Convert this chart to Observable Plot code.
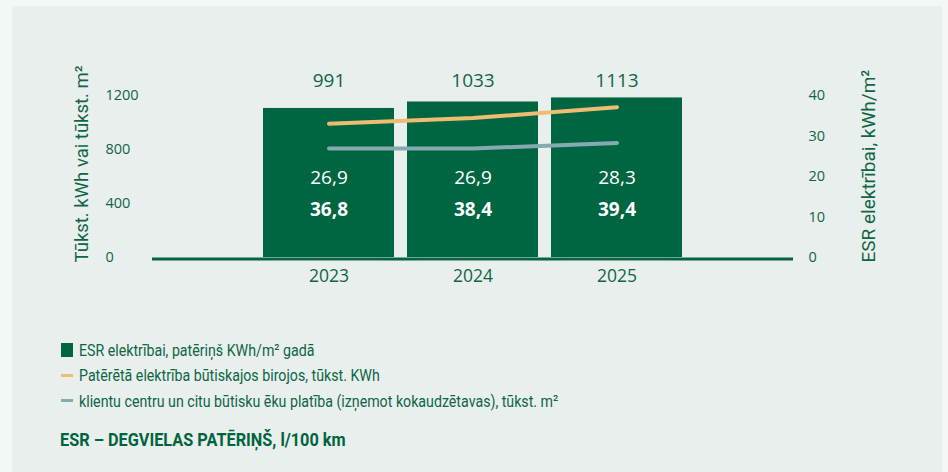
<!DOCTYPE html>
<html><head><meta charset="utf-8">
<script src="https://cdn.jsdelivr.net/npm/d3@7"></script>
<script src="https://cdn.jsdelivr.net/npm/@observablehq/plot@0.6"></script>
<style>
html,body{margin:0;padding:0;background:#f3f7f5;width:948px;height:472px;overflow:hidden;font-family:Roboto,"Open Sans",sans-serif;}
#panel{position:absolute;left:12px;top:6px;width:930px;height:466px;background:#e9efec;}
#chart{position:absolute;left:0;top:0;}
#legend{position:absolute;left:61px;top:337px;color:#0d6646;font-size:17px;}
.row{display:flex;align-items:center;height:25.5px;white-space:nowrap;}
.sw{width:12px;margin-right:6px;flex:none;}
.lt{display:inline-block;transform:scaleX(0.835);transform-origin:0 50%;}
#title{position:absolute;left:60px;top:430px;font-weight:700;font-size:17.5px;color:#00643f;white-space:nowrap;transform:scaleX(0.93);transform-origin:0 50%;}
</style></head>
<body>
<div id="panel"></div>
<div id="chart"></div>
<div id="legend"></div>
<div id="title"></div>
<script>
const years = ["2023", "2024", "2025"];
const esr = [36.8, 38.4, 39.4];          // ESR elektrībai, kWh/m² gadā (bars, right axis)
const electricity = [991, 1033, 1113];   // tūkst. kWh (orange line, left axis)
const area = [26.9, 26.9, 28.3];         // tūkst. m² (blue line)
const leftTicks = [0, 400, 800, 1200];
const rightTicks = [0, 10, 20, 30, 40];
const leftLabel = "Tūkst. kWh vai tūkst. m²";
const rightLabel = "ESR elektrībai, kWh/m²";
const legendItems = [
  "ESR elektrībai, patēriņš KWh/m² gadā",
  "Patērētā elektrība būtiskajos birojos, tūkst. KWh",
  "klientu centru un citu būtisku ēku platība (izņemot kokaudzētavas), tūkst. m²"
];
const titleText = "ESR – DEGVIELAS PATĒRIŅŠ, l/100 km";

const k = leftTicks[leftTicks.length - 1] / rightTicks[rightTicks.length - 1]; // right→left axis ratio
const green = "#006642", orange = "#efbc73", blue = "#85aab2", textGreen = "#0f6647";
const fmt = v => v.toFixed(1).replace(".", ",");

const rows = years.map((year, i) => ({year, esr: esr[i], electricity: electricity[i], area: area[i]}));

const chart = Plot.plot({
  width: 948, height: 300,
  marginLeft: 152, marginRight: 155, marginTop: 95, marginBottom: 43,
  style: {background: "transparent", fontFamily: "'Open Sans', sans-serif", color: textGreen},
  x: {type: "band", domain: years, paddingInner: 0.09, paddingOuter: 0.763},
  y: {domain: [0, 1200]},
  marks: [
    Plot.barY(rows, {x: "year", y: d => d.esr * k, fill: green}),
    Plot.ruleY([0], {stroke: green, strokeWidth: 3, dy: 1.5}),
    Plot.line(rows, {x: "year", y: "electricity", stroke: orange, strokeWidth: 4}),
    Plot.line(rows, {x: "year", y: d => d.area * k, stroke: blue, strokeWidth: 4}),
    Plot.axisY({ticks: leftTicks, anchor: "left", tickSize: 0, tickPadding: 47, textAnchor: "start", tickFormat: d => String(d), fontSize: 14.5, label: null, fill: textGreen}),
    Plot.axisY({ticks: rightTicks.map(t => t * k), anchor: "right", tickSize: 0, tickPadding: 15, tickFormat: d => String(d / k), fontSize: 14.5, label: null, fill: textGreen}),
    Plot.axisX({tickSize: 0, tickPadding: 12, fontSize: 17.5, label: null, fill: textGreen}),
    Plot.text(rows, {x: "year", frameAnchor: "top", lineAnchor: "middle", dy: -15, text: d => String(d.electricity), fontSize: 19, fill: textGreen}),
    Plot.text(rows, {x: "year", frameAnchor: "bottom", lineAnchor: "middle", dy: -80, text: d => fmt(d.area), fontSize: 19, fill: "white"}),
    Plot.text(rows, {x: "year", frameAnchor: "bottom", lineAnchor: "middle", dy: -48, text: d => fmt(d.esr), fontSize: 19, fontWeight: 700, fill: "white"}),
    Plot.text([leftLabel], {frameAnchor: "bottom-left", lineAnchor: "middle", dx: -70, dy: 5, rotate: -90, textAnchor: "start", fontSize: 18.5, fontFamily: "Roboto", fill: textGreen}),
    Plot.text([rightLabel], {frameAnchor: "bottom-right", lineAnchor: "middle", dx: 75, dy: 5, rotate: -90, textAnchor: "start", fontSize: 19, fontFamily: "Roboto", fill: textGreen})
  ]
});
document.getElementById("chart").appendChild(chart);

const swatches = [
  `<span class="sw" style="height:14px;background:${green}"></span>`,
  `<span class="sw" style="height:3px;background:${orange}"></span>`,
  `<span class="sw" style="height:3px;background:${blue}"></span>`
];
document.getElementById("legend").innerHTML = legendItems
  .map((t, i) => `<div class="row">${swatches[i]}<span class="lt">${t}</span></div>`).join("");
document.getElementById("title").textContent = titleText;
</script>
</body></html>
